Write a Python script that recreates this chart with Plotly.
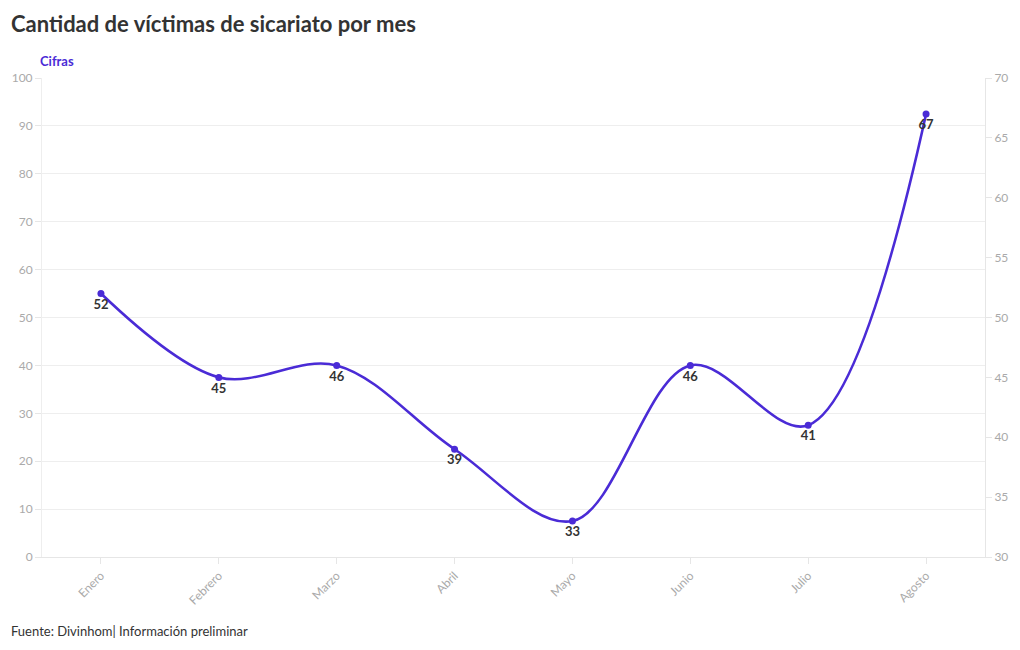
import plotly.graph_objects as go

months = ["Enero", "Febrero", "Marzo", "Abril", "Mayo", "Junio", "Julio", "Agosto"]
cifras = [52, 45, 46, 39, 33, 46, 41, 67]
left_ticks = list(range(0, 101, 10))
right_ticks = list(range(30, 71, 5))

purple = "#4a2bd6"
font_family = "Lato, 'Noto Sans', sans-serif"

fig = go.Figure()
# invisible trace to anchor the left axis
fig.add_trace(go.Scatter(x=months, y=[None]*len(months), yaxis="y", showlegend=False, hoverinfo="skip"))
fig.add_trace(go.Scatter(
    x=months, y=cifras, yaxis="y2", name="Cifras",
    mode="lines+markers+text",
    line=dict(color=purple, width=2.6, shape="spline", smoothing=1.0),
    marker=dict(color=purple, size=7),
    text=[f"<b>{v}</b>" for v in cifras],
    textposition="bottom center",
    textfont=dict(color="#333333", size=13, family=font_family),
    showlegend=False,
))

fig.update_layout(
    width=1020, height=650,
    margin=dict(l=40, r=34, t=78, b=93),
    paper_bgcolor="white", plot_bgcolor="white",
    font=dict(family=font_family, color="#aaaaaa", size=12),
    xaxis=dict(
        type="category", range=[-0.5, 7.5],
        tickangle=-45, ticks="outside", ticklen=6, tickcolor="#e6e6e6",
        tickfont=dict(color="#aaaaaa", size=12),
        showgrid=False, showline=True, linecolor="#e6e6e6", linewidth=1,
        zeroline=False,
    ),
    yaxis=dict(
        range=[0, 100], tickvals=left_ticks, side="left",
        ticks="outside", ticklen=6, tickcolor="#e6e6e6",
        tickfont=dict(color="#aaaaaa", size=12),
        showgrid=True, gridcolor="#eeeeee", gridwidth=1,
        showline=True, linecolor="#eeeeee", zeroline=False,
    ),
    yaxis2=dict(
        range=[30, 70], tickvals=right_ticks, side="right", overlaying="y",
        ticks="outside", ticklen=6, tickcolor="#e6e6e6",
        tickfont=dict(color="#aaaaaa", size=12),
        showgrid=False, showline=True, linecolor="#e6e6e6", zeroline=False,
    ),
    annotations=[
        dict(text="<b>Cantidad de víctimas de sicariato por mes</b>", xref="paper", yref="paper",
             x=0, y=1, xanchor="left", yanchor="middle", showarrow=False,
             font=dict(size=22, color="#333333", family=font_family),
             xshift=-33, yshift=55),
        dict(text="<b>Cifras</b>", xref="paper", yref="paper",
             x=0, y=1, xanchor="left", yanchor="middle", showarrow=False,
             font=dict(size=13, color=purple, family=font_family),
             xshift=-4, yshift=17),
        dict(text="Fuente: Divinhom| Información preliminar", xref="paper", yref="paper",
             x=0, y=0, xanchor="left", yanchor="middle", showarrow=False,
             font=dict(size=13, color="#333333", family=font_family),
             xshift=-33, yshift=-74),
    ],
)

fig.write_html("out.html")
